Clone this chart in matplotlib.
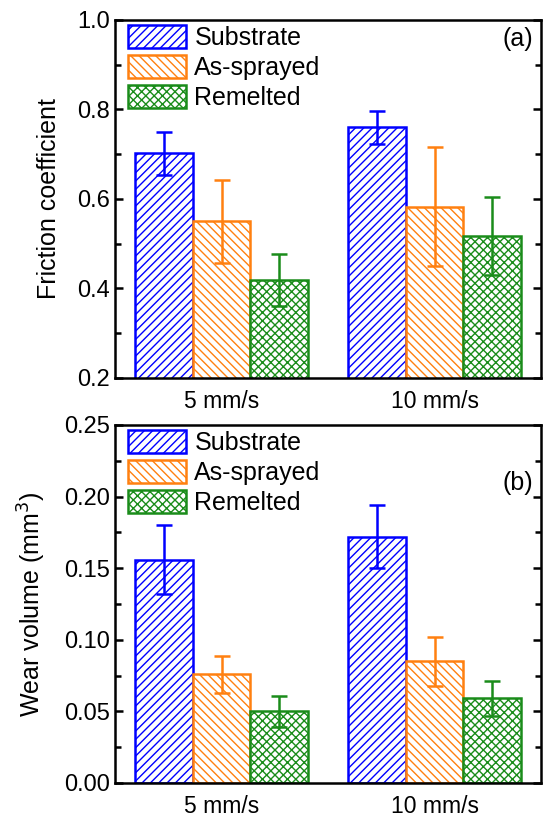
import matplotlib.pyplot as plt
import numpy as np

plt.rcParams['font.family'] = ['Liberation Sans', 'DejaVu Sans']
plt.rcParams['hatch.linewidth'] = 1.0

speeds = ['5 mm/s', '10 mm/s']
samples = ['Substrate', 'As-sprayed', 'Remelted']
colors = ['#0000ff', '#ff8010', '#1a8c1a']
hatches = ['////', '\\\\\\\\', 'xxxx']

# friction coefficient (a)
friction = [[0.702, 0.760], [0.550, 0.583], [0.418, 0.517]]
friction_err = [[0.048, 0.037], [0.093, 0.133], [0.058, 0.087]]

# wear volume (b)
wear = [[0.156, 0.172], [0.076, 0.085], [0.050, 0.059]]
wear_err = [[0.024, 0.022], [0.013, 0.017], [0.011, 0.012]]


def draw_panel(ax, values, errors, ylim, major, minor, ylabel, tag, tag_y):
    x = np.arange(len(speeds))
    width = 0.27
    for i, name in enumerate(samples):
        pos = x + (i - 1) * width
        ax.bar(pos, values[i], width, color='white', edgecolor=colors[i],
               hatch=hatches[i], linewidth=1.8, label=name)
        ax.errorbar(pos, values[i], yerr=errors[i], fmt='none',
                    ecolor=colors[i], elinewidth=1.8, capsize=6, capthick=1.8)
    ax.set_xlim(-0.5, 1.5)
    ax.set_ylim(*ylim)
    ax.set_xticks(x)
    ax.set_xticklabels(speeds, fontsize=16.5)
    ax.set_yticks(np.arange(ylim[0], ylim[1] + major / 2, major))
    ax.set_yticks(np.arange(ylim[0], ylim[1] + minor / 2, minor), minor=True)
    ax.yaxis.set_major_formatter(plt.FormatStrFormatter('%.1f' if major >= 0.1 else '%.2f'))
    ax.tick_params(axis='y', which='both', direction='in', right=True, labelsize=17, width=1.8)
    ax.tick_params(axis='y', which='major', length=6)
    ax.tick_params(axis='y', which='minor', length=4)
    ax.tick_params(axis='x', length=0, pad=9)
    ax.set_ylabel(ylabel, fontsize=18, labelpad=12)
    for s in ax.spines.values():
        s.set_linewidth(1.8)
    ax.legend(loc='upper left', bbox_to_anchor=(0.019, 1.0), frameon=False,
              fontsize=18, handlelength=2.3, handleheight=1.05, borderaxespad=0,
              borderpad=0.2, labelspacing=0.2, handletextpad=0.35)
    ax.text(0.98, tag_y, tag, transform=ax.transAxes, ha='right', va='top', fontsize=18)


fig = plt.figure(figsize=(5.45, 8.18), dpi=100)
ax1 = fig.add_axes([0.211, 0.538, 0.782, 0.4377])
ax2 = fig.add_axes([0.211, 0.0428, 0.782, 0.4377])

draw_panel(ax1, friction, friction_err, (0.2, 1.0), 0.2, 0.1,
           'Friction coefficient', '(a)', 0.98)
draw_panel(ax2, wear, wear_err, (0.0, 0.25), 0.05, 0.025,
           'Wear volume (mm$^3$)', '(b)', 0.87)

fig.savefig('out.png', dpi=100)
